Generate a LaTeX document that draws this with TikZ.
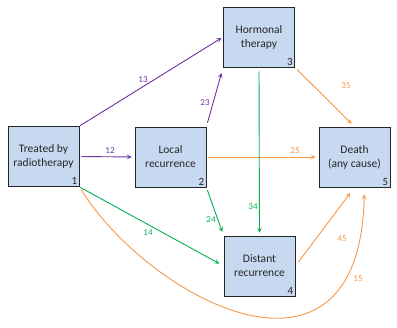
\documentclass[tikz,border=0pt]{standalone}
\usepackage{fontspec}
\setmainfont{Carlito}
\usetikzlibrary{arrows.meta}
\definecolor{boxfill}{HTML}{C6D9F1}
\definecolor{boxdraw}{HTML}{262626}
\definecolor{purp}{HTML}{7030A0}
\definecolor{grn}{HTML}{00B050}
\definecolor{orng}{HTML}{F79646}
\tikzset{
  state/.style={draw=boxdraw, line width=0.8pt, fill=boxfill, minimum width=71pt, minimum height=60pt,
    inner sep=0pt, align=center, font=\fontsize{11.5}{14}\selectfont, text=black!85},
  cornernum/.style={font=\fontsize{11}{13}\selectfont, text=black!85, anchor=south east, inner sep=2pt},
  trans/.style={line width=0.9pt, -{Stealth[length=5pt,width=5pt,inset=2.5pt]}},
  lbl/.style={font=\fontsize{9}{10}\selectfont, inner sep=0pt},
}
\begin{document}
\begin{tikzpicture}[x=1pt,y=-1pt]
\useasboundingbox (0,0) rectangle (397,328);
\node[state] (b1) at (43.5,156.5) {Treated by\\radiotherapy};
\node[state] (b2) at (170.5,157) {Local\\recurrence};
\node[state] (b3) at (259,37) {Hormonal\\therapy};
\node[state] (b4) at (259.5,266) {Distant\\recurrence};
\node[state] (b5) at (354.5,157) {Death\\(any cause)};
\node[cornernum] (n1) at (b1.south east) {1};
\node[cornernum] (n2) at (b2.south east) {2};
\node[cornernum] (n3) at (b3.south east) {3};
\node[cornernum] (n4) at (b4.south east) {4};
\node[cornernum] (n5) at (b5.south east) {5};
% transitions
\draw[trans, purp, shorten <=1pt, shorten >=2pt] (b1.north east) -- (b3.west);
\draw[trans, purp, shorten <=2pt, shorten >=3pt] (b1.east) -- (b2.west);
\draw[trans, purp, shorten <=4pt, shorten >=6pt] (b2.north east) -- (b3.south west);
\draw[trans, orng, shorten <=2pt, shorten >=3pt] (b2.east) -- (b5.west);
\draw[trans, orng, shorten <=3pt, shorten >=4pt] (b3.south east) -- (b5.north);
\draw[trans, grn, shorten <=4pt, shorten >=3pt] (b3.south) -- (b4.north);
\draw[trans, grn, shorten <=3pt, shorten >=4pt] (b2.south east) -- (b4.north west);
\draw[trans, grn, shorten <=1pt, shorten >=5pt] (b1.south east) -- (b4.west);
\draw[trans, orng, shorten <=5pt, shorten >=7pt] (b4.east) -- (b5.south);
\draw[trans, orng, shorten <=3pt, shorten >=7pt] (b1.south east) .. controls (150,300) and (360,410) .. (b5.-72);
% labels
\node[lbl, text=purp] (l13) at (143,80) {13};
\node[lbl, text=purp] (l12) at (110,151) {12};
\node[lbl, text=purp] (l23) at (205,103) {23};
\node[lbl, text=orng] (l25) at (295,151) {25};
\node[lbl, text=orng] (l35) at (346,86) {35};
\node[lbl, text=grn] (l34) at (253,207) {34};
\node[lbl, text=grn] (l24) at (211,220) {24};
\node[lbl, text=grn] (l14) at (148,233) {14};
\node[lbl, text=orng] (l45) at (342,239) {45};
\node[lbl, text=orng] (l15) at (358,279) {15};
\end{tikzpicture}
\end{document}
